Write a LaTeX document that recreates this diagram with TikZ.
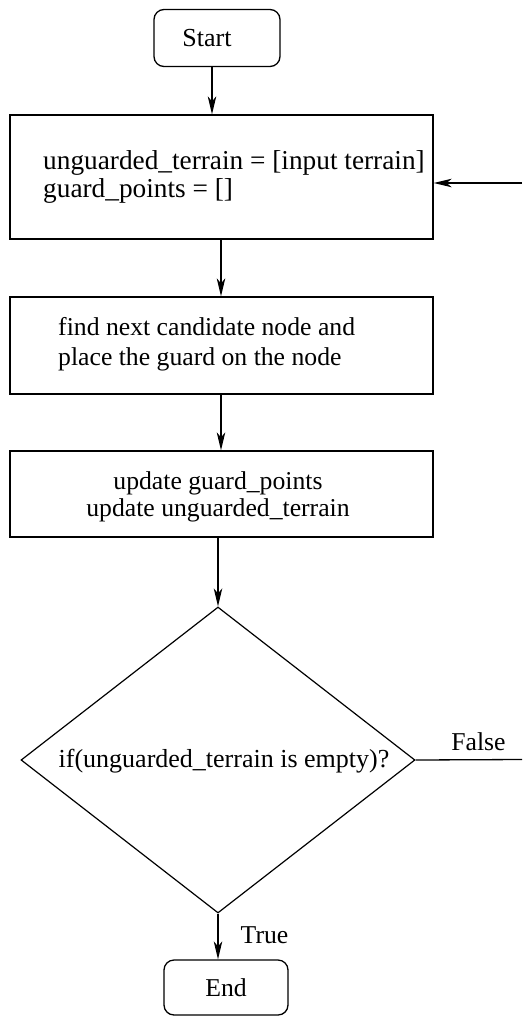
\documentclass[tikz,border=0pt]{standalone}
\usepackage{fontspec}
\setmainfont{Liberation Serif}
\usetikzlibrary{arrows.meta,shapes.geometric}
\begin{document}
\begin{tikzpicture}[x=1pt,y=-1pt,
  font=\fontsize{25.7}{28}\selectfont,
  every node/.style={inner sep=0pt},
  term/.style={draw,line width=1.3pt,rounded corners=10pt,minimum width=126pt,minimum height=57pt},
  procbox/.style={draw,line width=1.3pt,minimum width=423pt},
  decision/.style={draw,diamond,line width=1.2pt,minimum width=394pt,minimum height=306pt},
  txt/.style={align=left},
  bigtxt/.style={font=\fontsize{27.3}{28}\selectfont},
  flow/.style={line width=1.3pt,-{Stealth[length=18pt,width=8.5pt,inset=5pt]}},
  plain/.style={line width=1.3pt}]
\useasboundingbox (0,0) rectangle (522,1017);
% nodes
\node[term,font=\fontsize{26}{28}\selectfont] (start) at (217,38) {Start\kern20pt};
\node[procbox,minimum height=124pt] (b1) at (221.5,177) {};
\node[txt,bigtxt,anchor=west] (t1) at (43,177) {unguarded\_terrain = [input terrain]\\guard\_points = []};
\node[procbox,minimum height=97pt] (b2) at (221.5,345.5) {};
\node[txt,anchor=west] (t2) at (58,344) {find next candidate node and\\[2pt]place the guard on the node};
\node[procbox,minimum height=86pt] (b3) at (221.5,494) {};
\node[align=center] (t3) at (218,497) {update guard\_points\\[-1pt]update unguarded\_terrain};
\node[decision] (d) at (218,760) {};
\node[font=\fontsize{26}{28}\selectfont] (td) at (224,761) {if(unguarded\_terrain is empty)?};
\node[term,minimum width=124pt,minimum height=55pt] (end) at (226,987.5) {End};
\coordinate (loopin) at (522,183);
\coordinate (falseout) at (522,759.5);
% connectors
\draw[flow] (start.south -| 212,0) -- (b1.north -| 212,0);
\draw[flow] (b1.south -| 221,0) -- (b2.north -| 221,0);
\draw[flow] (b2.south -| 221,0) -- (b3.north -| 221,0);
\draw[flow] (b3.south -| d.north) -- (d.north);
\draw[flow] (d.south) -- (end.north -| d.south);
\draw[flow] (loopin) -- (loopin -| b1.east);
\draw[plain] (d.east) -- (falseout);
\node (lf) at (478.5,742) {False};
\node (lt) at (264.5,935) {True};
\end{tikzpicture}
\end{document}
